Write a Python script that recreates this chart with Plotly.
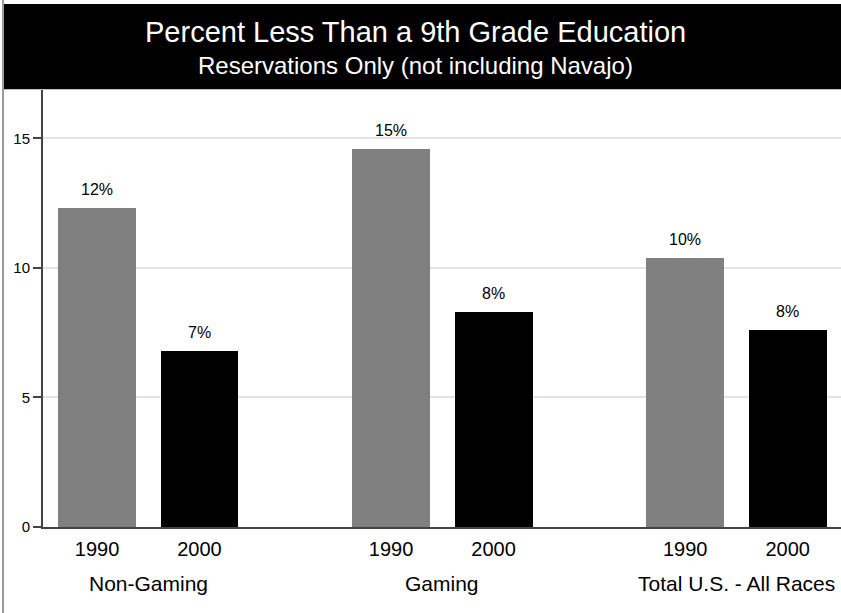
import plotly.graph_objects as go

groups = ["Non-Gaming", "Gaming", "Total U.S. - All Races"]
years = ["1990", "2000"]
values_1990 = [12.3, 14.6, 10.4]
values_2000 = [6.8, 8.3, 7.6]
labels_1990 = ["12%", "15%", "10%"]
labels_2000 = ["7%", "8%", "8%"]

GROUP_STEP = 2.87
x1990 = [g * GROUP_STEP for g in range(len(groups))]
x2000 = [g * GROUP_STEP + 1 for g in range(len(groups))]

fig = go.Figure()
fig.add_trace(go.Bar(x=x1990, y=values_1990, width=0.76, marker=dict(color="#808080", line_width=0), name="1990"))
fig.add_trace(go.Bar(x=x2000, y=values_2000, width=0.76, marker=dict(color="#000000", line_width=0), name="2000"))

font = "Liberation Sans, Arial, sans-serif"
annotations = []
for xs, vals, labs in [(x1990, values_1990, labels_1990), (x2000, values_2000, labels_2000)]:
    for x, v, t in zip(xs, vals, labs):
        annotations.append(dict(x=x, y=v, text=t, showarrow=False, yanchor="bottom", yshift=8,
                                font=dict(size=16, color="#000", family=font)))
for g, name in enumerate(groups):
    annotations.append(dict(x=g * GROUP_STEP + 0.5, y=0, yref="y", text=name, showarrow=False,
                            yanchor="middle", yshift=-56, font=dict(size=21, color="#000", family=font)))
annotations.append(dict(x=0.4668, xref="paper", y=1.1327, yref="paper", yanchor="middle",
                        text="Percent Less Than a 9th Grade Education",
                        showarrow=False, font=dict(size=29, color="white", family=font)))
annotations.append(dict(x=0.4668, xref="paper", y=1.0572, yref="paper", yanchor="middle",
                        text="Reservations Only (not including Navajo)",
                        showarrow=False, font=dict(size=24, color="white", family=font)))

tickvals = x1990 + x2000
ticktext = [years[0]] * len(x1990) + [years[1]] * len(x2000)

fig.update_layout(
    width=841, height=613,
    margin=dict(l=43, r=0, t=90, b=86),
    paper_bgcolor="white", plot_bgcolor="white",
    showlegend=False,
    bargap=0,
    font=dict(family=font, color="#000"),
    xaxis=dict(range=[-0.527, 7.26], tickvals=tickvals, ticktext=ticktext, tickfont=dict(size=20),
               showgrid=False, zeroline=False, showline=True, linecolor="#444", linewidth=2,
               ticks="", ticklabelstandoff=3),
    yaxis=dict(range=[0, 16.87], tickvals=[0, 5, 10, 15], tickfont=dict(size=15), showgrid=True,
               gridcolor="#e3e3ee", gridwidth=1.5, zeroline=False, showline=True, linecolor="#444",
               linewidth=2, ticks="outside", ticklen=8, tickcolor="#444", tickwidth=2),
    annotations=annotations,
    shapes=[
        dict(type="rect", xref="paper", yref="paper", x0=-0.0501, x1=1.0, y0=1.002, y1=1.197,
             fillcolor="black", line_width=0, layer="below"),
        dict(type="line", xref="paper", yref="paper", x0=-0.0501, x1=-0.0501, y0=-0.2, y1=1.21,
             line=dict(color="#999", width=2)),
    ],
)

fig.write_html("out.html", config={"displayModeBar": False},
               post_script="document.body.style.margin='0';")
